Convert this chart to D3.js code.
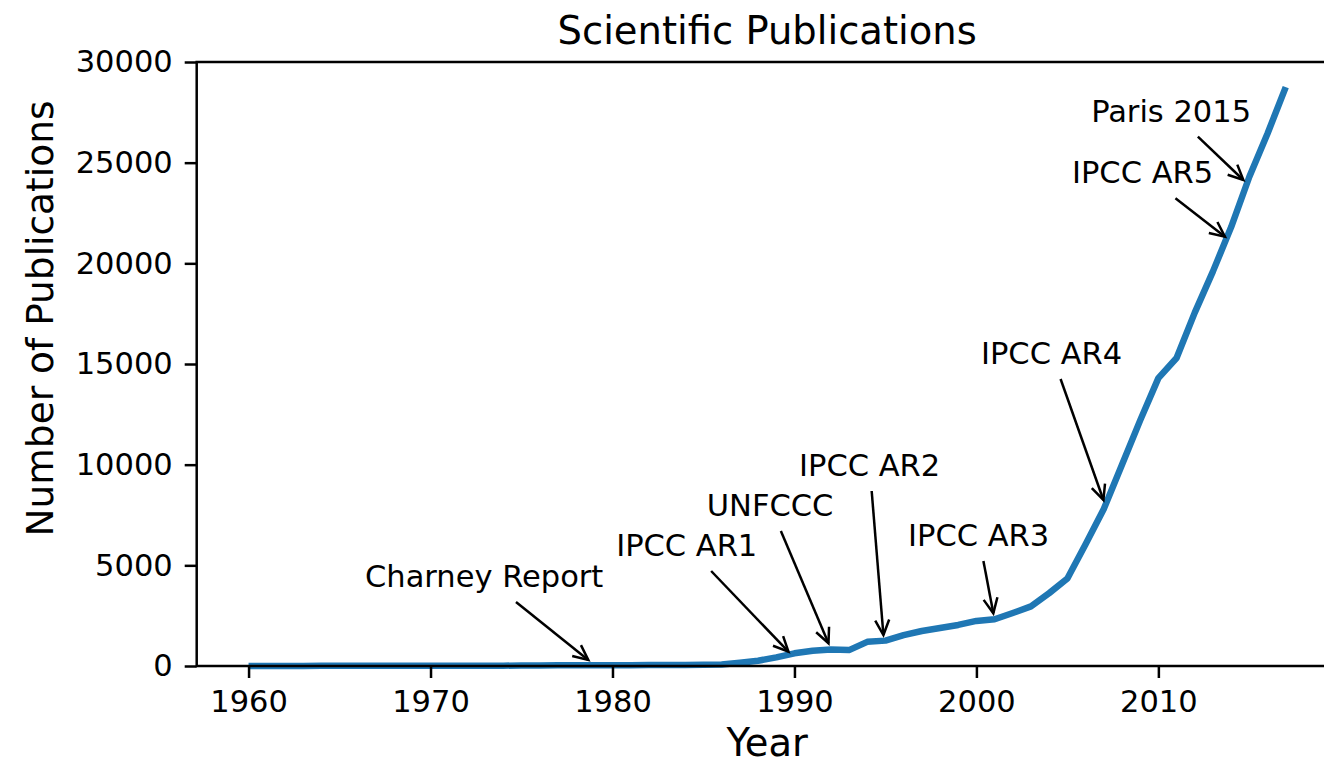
<!DOCTYPE html>
<html>
<head>
<meta charset="utf-8">
<script src="https://cdn.jsdelivr.net/npm/d3@7"></script>
<style>
  body { margin: 0; background: #fff; }
  svg { display: block; font-family: "DejaVu Sans", sans-serif; }
</style>
</head>
<body>
<svg id="pubSvg" width="1324" height="765"></svg>
<script>
// yearly publication counts, 1960-2017
var years = d3.range(1960, 2018);
var counts = [
  5, 5, 6, 6, 7, 8, 8, 9, 10, 10,
  12, 13, 14, 16, 18, 20, 30, 35, 40, 40,
  40, 42, 45, 48, 50, 60, 80, 160, 260, 430,
  630, 760, 820, 790, 1200, 1260, 1530, 1740, 1890, 2040,
  2240, 2320, 2630, 2960, 3620, 4350, 6050, 7800, 10000, 12200,
  14300, 15300, 17550, 19600, 21800, 24300, 26450, 28750
];
var xTicks = [1960, 1970, 1980, 1990, 2000, 2010];
var yTicks = [0, 5000, 10000, 15000, 20000, 25000, 30000];

// annotations: label, text anchor (year, value), arrow tip (year, value)
var noteLabels = ["Charney Report", "IPCC AR1", "UNFCCC", "IPCC AR2", "IPCC AR3", "IPCC AR4", "IPCC AR5", "Paris 2015"];
var noteTextX  = [1972.95, 1984.08, 1988.66, 1994.13, 2000.12, 2004.13, 2009.13, 2010.70];
var noteTextY  = [3924, 5464, 7450, 9437, 5960, 15000, 23975, 27036];
var noteTipX   = [1978.67, 1989.67, 1991.87, 1994.89, 2000.93, 2006.98, 2013.66, 2014.67];
var noteTipY   = [298, 710, 1128, 1540, 2618, 8245, 21323, 24139];

var lineColor = "#1f77b4";
var svg = d3.select("#pubSvg");

var x = d3.scaleLinear().domain([1957.15, 2019.85]).range([196.7, 1337.6]);
var y = d3.scaleLinear().domain([0, 30000]).range([666, 62]);

var data = years.map(function(yr, i) { return {year: yr, value: counts[i]}; });

// the line
var line = d3.line()
  .x(function(d) { return x(d.year); })
  .y(function(d) { return y(d.value); });

svg.append("path")
  .datum(data)
  .attr("fill", "none")
  .attr("stroke", lineColor)
  .attr("stroke-width", 6.5)
  .attr("stroke-linejoin", "round")
  .attr("d", line);

// spines
svg.append("rect")
  .attr("x", x.range()[0])
  .attr("y", y.range()[1])
  .attr("width", x.range()[1] - x.range()[0])
  .attr("height", y.range()[0] - y.range()[1])
  .attr("fill", "none")
  .attr("stroke", "#000")
  .attr("stroke-width", 2.5);

// axes
var xAxis = svg.append("g")
  .attr("transform", "translate(0," + y(0) + ")")
  .call(d3.axisBottom(x).tickValues(xTicks).tickFormat(d3.format("d")).tickSize(12).tickPadding(12));
var yAxis = svg.append("g")
  .attr("transform", "translate(" + x.range()[0] + ",0)")
  .call(d3.axisLeft(y).tickValues(yTicks).tickFormat(d3.format("d")).tickSize(12).tickPadding(12));

[xAxis, yAxis].forEach(function(ax) {
  ax.select(".domain").remove();
  ax.selectAll(".tick line").attr("stroke", "#000").attr("stroke-width", 2.5);
  ax.selectAll(".tick text")
    .attr("fill", "#000")
    .style("font-family", "DejaVu Sans")
    .style("font-size", "30.5px");
});

// title and axis labels
svg.append("text")
  .attr("x", (x.range()[0] + x.range()[1]) / 2)
  .attr("y", 44)
  .attr("text-anchor", "middle")
  .style("font-size", "38.5px")
  .text("Scientific Publications");

svg.append("text")
  .attr("x", (x.range()[0] + x.range()[1]) / 2)
  .attr("y", 756)
  .attr("text-anchor", "middle")
  .style("font-size", "38.5px")
  .text("Year");

svg.append("text")
  .attr("transform", "translate(53,318.5) rotate(-90)")
  .attr("text-anchor", "middle")
  .style("font-size", "37.5px")
  .text("Number of Publications");

// annotations with arrows
var notes = noteLabels.map(function(lbl, i) {
  return {label: lbl, tx: noteTextX[i], ty: noteTextY[i], ax: noteTipX[i], ay: noteTipY[i]};
});

var noteG = svg.append("g");
notes.forEach(function(n) {
  var t = noteG.append("text")
    .attr("x", x(n.tx))
    .attr("y", y(n.ty))
    .attr("text-anchor", "middle")
    .style("font-size", "30.5px")
    .text(n.label);
  var bb = t.node().getBBox();
  var pad = 8;
  var cx = bb.x + bb.width / 2, cy = bb.y + bb.height / 2;
  var px = x(n.ax), py = y(n.ay);
  var dx = px - cx, dy = py - cy;
  // where the centre->tip line leaves the padded text box
  var hw = bb.width / 2 + pad, hh = bb.height / 2 + pad;
  var s = Math.min(dx !== 0 ? hw / Math.abs(dx) : Infinity, dy !== 0 ? hh / Math.abs(dy) : Infinity);
  var sx = cx + dx * s, sy = cy + dy * s;

  noteG.append("line")
    .attr("x1", sx).attr("y1", sy)
    .attr("x2", px).attr("y2", py)
    .attr("stroke", "#000")
    .attr("stroke-width", 2.5);

  var ang = Math.atan2(py - sy, px - sx);
  var hl = 15, hwid = 7;
  var bx = px - hl * Math.cos(ang), by = py - hl * Math.sin(ang);
  var ox = -Math.sin(ang) * hwid, oy = Math.cos(ang) * hwid;
  noteG.append("path")
    .attr("d", "M" + (bx + ox) + "," + (by + oy) + "L" + px + "," + py + "L" + (bx - ox) + "," + (by - oy))
    .attr("fill", "none")
    .attr("stroke", "#000")
    .attr("stroke-width", 2.5)
    .attr("stroke-linejoin", "miter");
});
</script>
</body>
</html>
